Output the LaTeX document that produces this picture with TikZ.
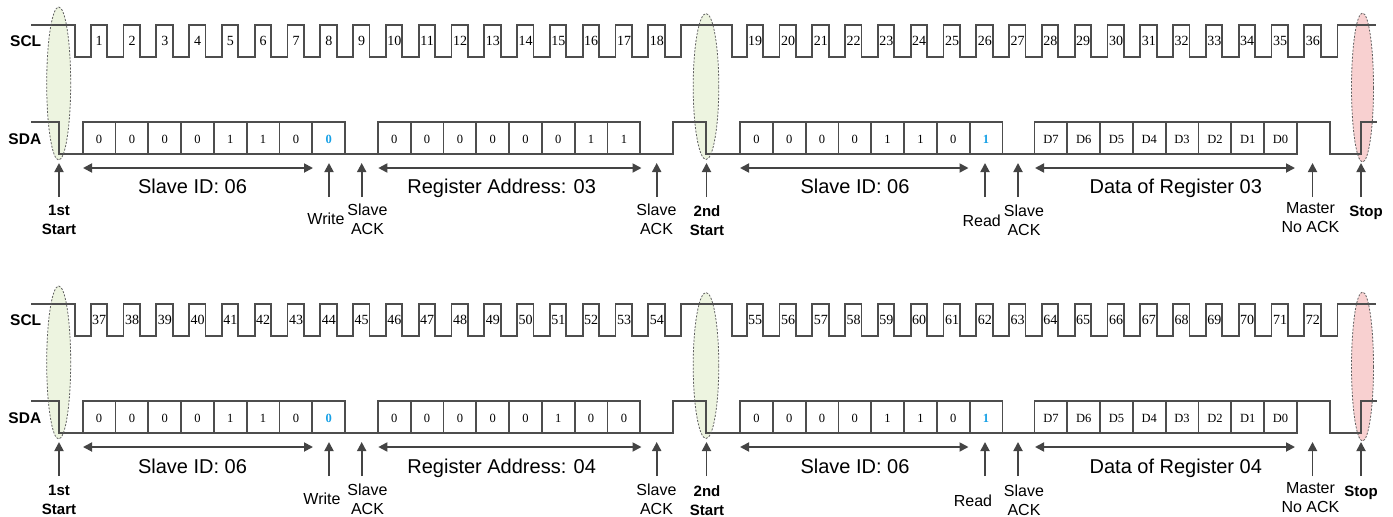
\documentclass[tikz,border=0pt]{standalone}
\usepackage{fontspec}
\setmainfont{Liberation Serif}
\setsansfont{Liberation Sans}
\usetikzlibrary{arrows.meta}
\definecolor{wavec}{RGB}{77,77,77}
\definecolor{arrc}{RGB}{68,68,68}
\definecolor{bitblue}{RGB}{22,160,230}
\definecolor{startfill}{RGB}{237,244,224}
\definecolor{stopfill}{RGB}{248,208,208}
\definecolor{ellc}{RGB}{95,95,95}
\tikzset{
  sigline/.style={draw=wavec, line width=1.8pt, line join=miter},
  numlabel/.style={font=\fontsize{14}{14}\selectfont, inner sep=0pt, anchor=base},
  bitlabel/.style={font=\fontsize{12.5}{12.5}\selectfont, inner sep=0pt, anchor=base},
  bluebit/.style={bitlabel, text=bitblue, font=\fontsize{12.5}{12.5}\selectfont\bfseries},
  uparrow/.style={draw=arrc, line width=1.8pt, -{Triangle[length=9pt,width=9pt]}},
  spanarrow/.style={draw=arrc, line width=1.8pt, {Triangle[length=9pt,width=9pt]}-{Triangle[length=9pt,width=9pt]}},
  spanlabel/.style={font=\sffamily\fontsize{20}{20}\selectfont, inner sep=0pt, anchor=base},
  evlabel/.style={font=\sffamily\fontsize{16}{16}\selectfont, inner sep=0pt, anchor=base},
  boldlabel/.style={font=\sffamily\bfseries\fontsize{15}{15}\selectfont, inner sep=0pt, anchor=base},
  sigtitle/.style={font=\sffamily\bfseries\fontsize{15.5}{15.5}\selectfont, inner sep=0pt, anchor=base west},
  ellborder/.style={draw=ellc, line width=0.8pt, dash pattern=on 2pt off 1.5pt},
}
% #1 y shift, #2 first clock number, #3 register bits, #4 register text, #5 row id,
% #6 extra label shift, #7 Write x, #8 Read x, #9 Stop x
\newcommand{\iicrow}[9]{%
\begin{scope}[shift={(0,#1)}]
  % ellipse fills
  \fill[startfill] (58.7,83.5) ellipse [x radius=12pt, y radius=76.5pt];
  \fill[startfill] (706,86.5) ellipse [x radius=12.8pt, y radius=73pt];
  \fill[stopfill] (1362.5,87.5) ellipse [x radius=11pt, y radius=74.5pt];
  % SCL
  \draw[sigline] (31,25) -- (75,25) -- (75,57)
    \foreach \k in {0,...,17}{ -- ({90.7+\k*32.8},57) -- ++(0,-32) -- ++(16.4,0) -- ++(0,32)}
    -- (681.1,57) -- (681.1,25) -- (731.7,25) -- (731.7,57)
    \foreach \k in {0,...,17}{ -- ({746.7+\k*32.8},57) -- ++(0,-32) -- ++(16.4,0) -- ++(0,32)}
    -- (1337.5,57) -- (1337.5,25) -- (1376,25);
  \foreach \k in {0,...,17}{
    \pgfmathtruncatemacro{\n}{#2+\k}
    \node[numlabel] (c#5n\n) at ({90.7+\k*32.8+8.5},45.5) {\n};
    \pgfmathtruncatemacro{\m}{#2+18+\k}
    \node[numlabel] (c#5n\m) at ({746.7+\k*32.8+8.5},45.5) {\m};
  }
  % SDA
  \draw[sigline] (31,122) -- (59,122) -- (59,154) -- (82.7,154);
  \draw[sigline] (345.1,154) -- (377.9,154);
  \draw[sigline] (640.3,154) -- (673.1,154) -- (673.1,122) -- (706,122) -- (706,154) -- (740,154);
  \draw[sigline] (1002.4,154) -- (1034.5,154);
  \draw[sigline] (1296.9,122) -- (1330,122) -- (1330,154) -- (1361,154) -- (1361,122) -- (1377,122);
  \foreach \s in {82.7,377.9,740,1034.5}{
    \draw[sigline] (\s,122) rectangle ++(262.4,32);
    \foreach \j in {1,...,7} \draw[sigline] ({\s+\j*32.8},122) -- ++(0,32);
  }
  \foreach \b [count=\i from 0] in {0,0,0,0,1,1,0}
    \node[bitlabel] (a#5b\i) at ({82.7+(\i+0.5)*32.8},143.3) {\b};
  \node[bluebit] (a#5b7) at ({82.7+7.5*32.8},143.3) {0};
  \foreach \b [count=\i from 0] in {#3}
    \node[bitlabel] (r#5b\i) at ({377.9+(\i+0.5)*32.8},143.3) {\b};
  \foreach \b [count=\i from 0] in {0,0,0,0,1,1,0}
    \node[bitlabel] (s#5b\i) at ({740+(\i+0.5)*32.8},143.3) {\b};
  \node[bluebit] (s#5b7) at ({740+7.5*32.8},143.3) {1};
  \foreach \b [count=\i from 0] in {D7,D6,D5,D4,D3,D2,D1,D0}
    \node[bitlabel] (d#5b\i) at ({1034.5+(\i+0.5)*32.8},143.3) {\b};
  % ellipse borders
  \draw[ellborder] (58.7,83.5) ellipse [x radius=12pt, y radius=76.5pt];
  \draw[ellborder] (706,86.5) ellipse [x radius=12.8pt, y radius=73pt];
  \draw[ellborder] (1362.5,87.5) ellipse [x radius=11pt, y radius=74.5pt];
  % signal titles
  \node[sigtitle] (scl#5) at (10,46.7) {SCL};
  \node[sigtitle] (sda#5) at (8.3,144.3) {SDA};
  % span arrows
  \coordinate (h1a#5) at (83,168);   \coordinate (h1b#5) at (313,168);
  \coordinate (h2a#5) at (378.3,168); \coordinate (h2b#5) at (641.5,168);
  \coordinate (h3a#5) at (740,168);  \coordinate (h3b#5) at (968.5,168);
  \coordinate (h4a#5) at (1035,168); \coordinate (h4b#5) at (1295,168);
  \draw[spanarrow] (h1a#5) -- (h1b#5);
  \draw[spanarrow] (h2a#5) -- (h2b#5);
  \draw[spanarrow] (h3a#5) -- (h3b#5);
  \draw[spanarrow] (h4a#5) -- (h4b#5);
  % up arrows
  \foreach \x [count=\u] in {59,329,361.7,656.7,706.5,985,1018,1312.5,1361}{
    \coordinate (ut\u#5) at (\x,163);
    \coordinate (ub\u#5) at (\x,197);
    \draw[uparrow] (ub\u#5) -- (ut\u#5);
  }
  \begin{scope}[shift={(0,#6)}]
    \node[spanlabel] (lsid1#5) at (192.5,193.5) {Slave ID: 06};
    \node[spanlabel] (lreg#5) at (501.7,193.5) {Register Address: #4};
    \node[spanlabel] (lsid2#5) at (855,193.5) {Slave ID: 06};
    \node[spanlabel] (ldat#5) at (1175.8,193.5) {Data of Register #4};
    \node[boldlabel] (st1a#5) at (59,215) {1st};
    \node[boldlabel] (st1b#5) at (59,234.5) {Start};
    \node[evlabel] (wr#5) at (#7,224) {Write};
    \node[evlabel] (ack1a#5) at (367.5,215) {Slave};
    \node[evlabel] (ack1b#5) at (367.5,234) {ACK};
    \node[evlabel] (ack2a#5) at (656.5,215) {Slave};
    \node[evlabel] (ack2b#5) at (656.5,234) {ACK};
    \node[boldlabel] (st2a#5) at (707,216) {2nd};
    \node[boldlabel] (st2b#5) at (707,235) {Start};
    \node[evlabel] (rd#5) at (#8,226) {Read};
    \node[evlabel] (ack3a#5) at (1024,216.5) {Slave};
    \node[evlabel] (ack3b#5) at (1024,235) {ACK};
    \node[evlabel] (mna#5) at (1310.5,213) {Master};
    \node[evlabel] (mnb#5) at (1310.5,232.5) {No ACK};
    \node[boldlabel] (stop#5) at (#9,216.5) {Stop};
  \end{scope}
\end{scope}}

\begin{document}
\begin{tikzpicture}[x=1pt, y=-1pt]
  \useasboundingbox (0,0) rectangle (1393,517);
  \iicrow{0}{1}{0,0,0,0,0,0,1,1}{03}{u}{0}{326}{981.7}{1366}
  \iicrow{279}{37}{0,0,0,0,0,1,0,0}{04}{v}{1}{322}{973}{1361}
\end{tikzpicture}
\end{document}
